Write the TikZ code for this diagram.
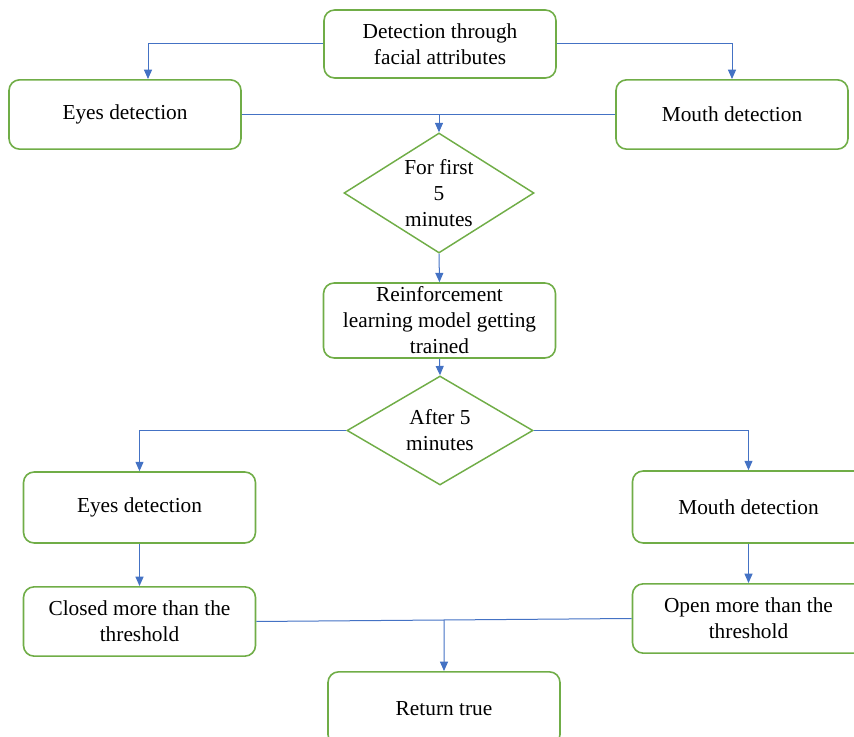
\documentclass[tikz,border=0pt]{standalone}
\usepackage{fontspec}
\setmainfont{Liberation Serif}
\usetikzlibrary{shapes.geometric,arrows.meta,calc}
\definecolor{boxgreen}{HTML}{70AD47}
\definecolor{arrowblue}{HTML}{4472C4}
\begin{document}
\begin{tikzpicture}[x=0.75pt,y=-0.75pt,
  lbl/.style={align=center, font=\fontsize{16}{19.5}\selectfont, inner sep=0pt},
  box/.style={lbl, draw=boxgreen, line width=1.2pt, rounded corners=8pt, minimum width=174pt},
  dia/.style={draw=boxgreen, line width=1.1pt, shape=diamond, inner sep=0pt},
  conn/.style={draw=arrowblue, line width=0.75pt},
  arr/.style={conn, -{Triangle[length=7pt,width=6pt]}}]
\useasboundingbox (0,0) rectangle (854,737);

\node[box, minimum height=51pt] (top) at (440,44) {Detection through\\facial attributes};
\node[box, minimum height=52pt] (eyes1) at (125,114.5) {Eyes detection};
\node[box, minimum height=52pt] (mouth1) at (732,114.5) {Mouth detection};
\node[dia, minimum width=142.5pt, minimum height=90pt] (d1) at (439,193) {};
\node[lbl] at (d1) {For first\\5\\minutes};
\node[box, minimum height=56.25pt] (rl) at (439.5,320.5) {Reinforcement\\learning model getting\\trained};
\node[dia, minimum width=139.5pt, minimum height=81.75pt] (d2) at (440,430.5) {};
\node[lbl] at (d2) {After 5\\minutes};
\node[box, minimum height=53.25pt] (eyes2) at (139.5,507.5) {Eyes detection};
\node[box, minimum height=54pt] (mouth2) at (748.5,507) {Mouth detection};
\node[box, minimum height=52pt] (closed) at (139.5,621.5) {Closed more than the\\threshold};
\node[box, minimum height=52pt] (open) at (748.5,618.5) {Open more than the\\threshold};
\node[box, minimum height=55pt] (ret) at (444,708.5) {Return true};

\draw[arr] (top.west) -| ([xshift=17.25pt]eyes1.north);
\draw[arr] (top.east) -| (mouth1.north);
\draw[conn] (eyes1.east) -- (mouth1.west);
\draw[arr] (d1.north |- eyes1.east) -- (d1.north);
\draw[arr] (d1.south) -- (rl.north);
\draw[arr] (rl.south) -- (d2.north);
\draw[arr] (d2.west) -| (eyes2.north);
\draw[arr] (d2.east) -| (mouth2.north);
\draw[arr] (eyes2.south) -- (closed.north);
\draw[arr] (mouth2.south) -- (open.north);
\draw[conn] (closed.east) -- (open.west);
\draw[arr] ($(closed.east)!0.5!(open.west)$) -- (ret.north);
\end{tikzpicture}
\end{document}
